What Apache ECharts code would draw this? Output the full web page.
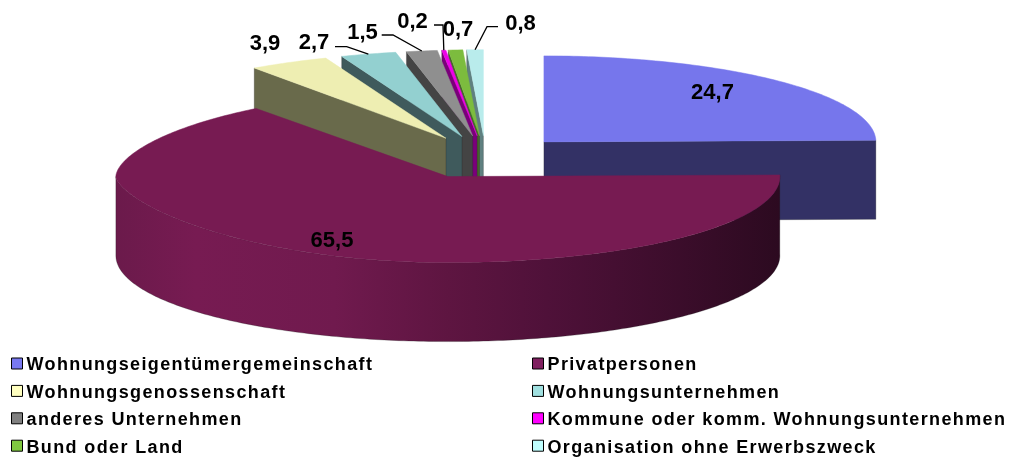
<!DOCTYPE html>
<html><head><meta charset="utf-8">
<style>html,body{margin:0;padding:0;background:#fff}#c{width:1010px;height:457px}</style>
<script src="https://cdn.jsdelivr.net/npm/echarts@6/dist/echarts.min.js"></script>
</head><body><div id="c"></div>
<script>
// Data (clockwise from 12 o'clock)
const categories = ['Wohnungseigentümergemeinschaft','Privatpersonen','Wohnungsgenossenschaft','Wohnungsunternehmen','anderes Unternehmen','Kommune oder komm. Wohnungsunternehmen','Bund oder Land','Organisation ohne Erwerbszweck'];
const values = [24.7,65.5,3.9,2.7,1.5,0.2,0.7,0.8];

// Styles
const topColors  = ['#7676ec','#771b52','#eeeeb2','#93d0d0','#8f8f8f','#ee00e8','#7cbc3e','#b9ecec'];
const wallColors = ['#333165','#771b52','#696a4b','#3f5a5c','#444444','#7a007a','#44682a','#5f8080'];
const legendColors = ['#7878f0','#7f1f5f','#ffffc0','#a0e0e0','#808080','#ff00ff','#80c840','#c0ffff'];
const drawOrder = [7,6,5,4,3,2,0,1];

// Projection of the 3D pie
const CX = 485.5, CY = 157.3, RX = 332, RY = 86, DEPTH = 79, EXPLODE = 83.4;
const LABEL_FONT = 'bold 22px "Liberation Sans", Arial, sans-serif';
// Label layout: centre of each value label, and the elbow of its leader (if any)
const labelPos = [[712.5,93],[332,241],[265,44],[314,43],[362.5,33],[412.5,22],[458,30],[520.5,24]];
const leaderFrom = [null,null,null,[335,46.7],[381.7,35],[434,25],null,[498,26.7]];
const leaderElbow = [null,null,null,[346.7,46.7],[393,35],[443,25],null,[487,26.7]];

// Legend text in the reference is tracked out and sits a little below its swatch
const LEGEND_TRACKING = '1.37px', LEGEND_TEXT_DY = 2;
const proto = CanvasRenderingContext2D.prototype, fillTextOrig = proto.fillText;
proto.fillText = function(t,x,y,m){
  const isLegend = this.font.indexOf('18px')>=0;
  this.letterSpacing = isLegend ? LEGEND_TRACKING : '0px';
  const yy = isLegend ? y+LEGEND_TEXT_DY : y;
  return m===undefined ? fillTextOrig.call(this,t,x,yy) : fillTextOrig.call(this,t,x,yy,m);
};

const total = values.reduce((a,b)=>a+b,0);
const starts = []; values.reduce((a,b,i)=>{starts[i]=a;return a+b;},0);
const toAngle = v => echarts.number.linearMap(v,[0,total],[0,Math.PI*2]);

function geom(i){
  const a0 = toAngle(starts[i]), a1 = toAngle(starts[i]+values[i]), m=(a0+a1)/2;
  const ax = CX + EXPLODE*Math.sin(m), ay = CY - EXPLODE*(RY/RX)*Math.cos(m);
  const pt = (a,dz=0)=>[ax+RX*Math.sin(a), ay-RY*Math.cos(a)+dz];
  // top rim of the big slice: perspective pinches its far-left tip
  const ptTop = a=>{
    const s=Math.sin(a), c=Math.cos(a);
    if(i!==1||s>=0) return pt(a);
    const p = c<0 ? 1.3 : 1.15;
    return [ax+RX*s, ay-RY*Math.sign(c)*Math.pow(Math.abs(c),p)];
  };
  return {a0,a1,m,ax,ay,pt,ptTop};
}
function arc(f,a,b){
  const n=Math.max(2,Math.ceil(Math.abs(b-a)/0.015)), r=[];
  for(let k=0;k<=n;k++) r.push(f(a+(b-a)*k/n));
  return r;
}
const edge = {stroke:'rgba(30,30,30,0.45)',lineWidth:0.6};
function renderSlice(i){
  return function(params,api){
    const g=geom(i), kids=[];
    const wall=(pts,fill)=>kids.push({type:'polygon',silent:true,shape:{points:pts},style:Object.assign({fill},edge)});
    if(i===0){ // end edge faces the viewer
      wall([[g.ax,g.ay],g.pt(g.a1),g.pt(g.a1,DEPTH),[g.ax,g.ay+DEPTH]],wallColors[i]);
    } else if(i===1){ // front rim
      const rim=arc(g.ptTop,g.a0,Math.PI*1.5).concat(arc(a=>g.pt(a,DEPTH),Math.PI*1.5,g.a0));
      const x0=g.ax-RX,x1=g.ax+RX;
      wall(rim,new echarts.graphic.LinearGradient(x0,0,x1,0,[
        {offset:0,color:'#6b1a4b'},{offset:0.12,color:'#771b52'},{offset:0.33,color:'#701a4e'},
        {offset:0.5,color:'#5e1541'},{offset:0.65,color:'#4f1139'},{offset:1,color:'#2c0a20'}],true));
    } else { // start edge faces the viewer
      wall([[g.ax,g.ay],g.pt(g.a0),g.pt(g.a0,DEPTH),[g.ax,g.ay+DEPTH]],wallColors[i]);
    }
    const top=[[g.ax,g.ay]].concat(arc(g.ptTop,g.a0,g.a1));
    kids.push({type:'polygon',silent:true,shape:{points:top},style:{fill:topColors[i],stroke:topColors[i],lineWidth:0.5}});
    if(leaderFrom[i]){
      const end=g.pt(g.m);
      kids.push({type:'polyline',silent:true,z2:20,shape:{points:[leaderFrom[i],leaderElbow[i],end]},style:{stroke:'#000',lineWidth:1.3,fill:'none'}});
    }
    const v=api.value(0);
    kids.push({type:'text',silent:true,z2:30,style:{text:String(v).replace('.',','),x:labelPos[i][0],y:labelPos[i][1],font:LABEL_FONT,fill:'#000',textAlign:'center',textVerticalAlign:'middle'}});
    return {type:'group',children:kids};
  };
}
const series = drawOrder.map(i=>({type:'custom',name:categories[i],coordinateSystem:'none',animation:false,silent:true,
  itemStyle:{color:legendColors[i],borderColor:'#000',borderWidth:1},
  renderItem:renderSlice(i),data:[[values[i]]],clip:false}));

function legend(idx,left){
  return {left,top:354.5,height:200,orient:'vertical',itemWidth:11,itemHeight:11,itemGap:9.4,icon:'rect',selectedMode:false,
    padding:0,inactiveColor:'#000',data:idx.map(i=>categories[i]),
    itemStyle:{borderColor:'#000',borderWidth:1},
    textStyle:{color:'#000',fontFamily:'"Liberation Sans", Arial, sans-serif',fontWeight:'bold',fontSize:18,padding:[0,0,0,-1],lineHeight:18}};
}
const chart=echarts.init(document.getElementById('c'),null,{renderer:'canvas'});
chart.setOption({animation:false,backgroundColor:'#fff',
  legend:[legend([0,2,4,6],11),legend([1,3,5,7],532)],series});
</script></body></html>
